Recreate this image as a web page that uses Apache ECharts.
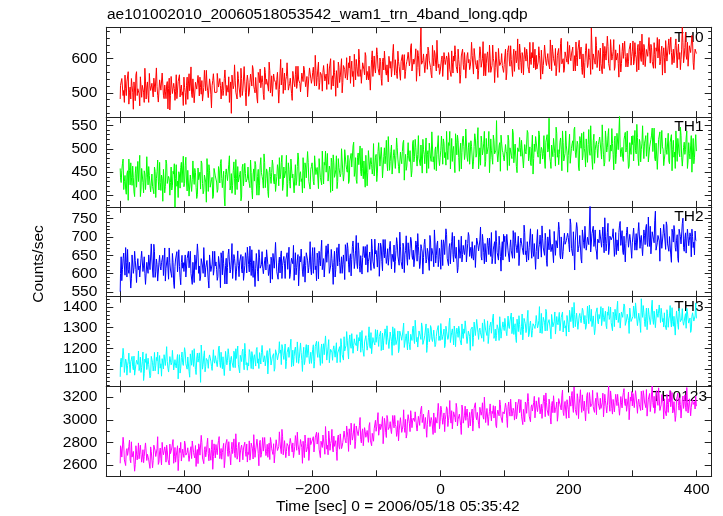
<!DOCTYPE html>
<html><head><meta charset="utf-8">
<script src="https://cdn.jsdelivr.net/npm/echarts@6/dist/echarts.min.js"></script>
<style>html,body{margin:0;padding:0;background:#fff}#c{width:723px;height:516px}</style>
</head><body><div id="c"></div>
<script>
const plotTitle = 'ae101002010_20060518053542_wam1_trn_4band_long.qdp';
const xTitle = 'Time [sec] 0 = 2006/05/18 05:35:42';
const yTitle = 'Counts/sec';
const bandNames = ['TH0', 'TH1', 'TH2', 'TH3', 'TH0123'];
const tStart = -500;   // 1 s bins: "Even" arrays hold t = -500,-498,...,400 ; "Odd" arrays hold t = -499,-497,...,399
const xTickValues = [-500, -400, -300, -200, -100, 0, 100, 200, 300, 400];
const xLabelValues = [-400, -200, 0, 200, 400];
const yMajorTicks = [[500, 600], [400, 450, 500, 550], [550, 600, 650, 700, 750], [1100, 1200, 1300, 1400], [2600, 2800, 3000, 3200]];

const th0Even = [
482,522,537,507,552,492,527,467,517,542,502,532,477,562,512,497,547,487,522,472,532,517,492,557,507,
528,488,543,503,518,473,538,508,558,493,523,483,533,513,450,548,498,528,478,553,508,538,488,523,503,
546,501,521,481,556,526,496,541,471,531,511,551,491,516,536,476,566,506,526,486,541,496,521,556,501,
502,557,517,542,482,532,507,567,492,527,547,512,440,552,522,537,497,562,517,487,542,507,577,502,532,
535,500,555,520,570,510,545,485,560,530,515,550,495,575,525,540,505,565,520,490,555,535,510,560,470,
558,523,573,533,508,548,583,518,543,498,563,528,553,513,578,538,503,558,533,568,518,548,493,573,543,
540,575,520,565,545,590,530,560,505,580,535,555,585,525,570,510,550,595,540,565,515,575,545,600,530,
583,543,603,558,573,528,593,563,613,538,578,548,598,568,523,588,553,608,563,538,583,558,623,543,573,
562,612,577,602,542,592,567,627,552,587,607,572,547,617,582,597,557,622,577,537,602,567,612,562,592,
619,579,634,564,599,584,629,574,609,549,690,589,614,559,604,569,624,594,554,639,579,614,564,599,584,
563,598,548,618,583,608,538,603,573,623,558,593,613,568,628,578,553,603,583,618,543,608,588,568,598,
610,555,625,580,595,565,635,575,600,550,615,585,620,560,605,570,640,590,575,625,545,600,580,615,570,
583,628,558,613,593,638,573,608,563,623,598,578,643,588,618,553,633,593,613,568,648,583,603,573,628,
610,570,635,585,625,555,605,640,580,615,590,655,565,620,595,630,575,610,560,645,585,600,570,625,590,
584,639,594,624,564,609,649,579,619,599,634,554,614,589,644,574,629,594,690,569,619,584,639,599,614,
631,591,646,571,616,601,636,581,656,596,621,566,626,606,586,641,561,621,601,651,576,616,591,631,581,
622,582,647,602,632,567,652,592,617,642,577,627,607,662,587,632,597,647,572,622,602,657,592,637,607,
603,653,593,638,613,663,583,628,608,658,573,643,618,598,692,588,633,608,648,578,638,613,653,568,628,
615];
const th0Odd = [
522,542,492,472,512,532,562,502,482,522,452,532,552,492,512,462,542,522,502,572,482,532,472,522,512,
523,543,503,573,493,473,533,513,563,483,503,523,453,543,493,553,503,513,503,483,533,553,513,493,463,
516,466,546,526,506,576,486,536,476,526,516,526,546,496,476,516,536,566,506,486,526,456,536,556,496,
502,562,512,522,512,492,542,562,522,502,472,532,552,512,582,502,482,542,522,572,492,512,532,462,552,
490,530,550,580,520,500,540,470,550,570,510,530,480,560,540,520,590,500,550,490,540,530,540,560,510,
598,518,498,558,538,588,508,528,548,478,568,518,578,528,538,528,508,558,578,538,518,488,548,568,528,
560,540,610,520,570,510,560,550,560,580,530,510,550,570,600,540,520,560,490,570,590,530,550,500,580,
568,558,538,588,608,568,548,518,578,598,558,628,548,528,588,568,618,538,558,578,508,598,548,608,558,
632,572,552,592,522,602,622,562,582,532,612,592,572,642,552,602,542,592,582,592,612,562,542,582,602,
614,594,644,564,584,604,534,624,574,634,584,594,584,564,614,634,594,574,544,604,624,584,654,574,554,
558,608,548,598,588,598,618,568,548,588,608,638,578,558,598,528,608,628,568,588,538,618,598,578,648,
610,630,590,570,540,600,620,580,650,570,550,610,590,640,560,580,600,530,620,570,630,580,590,580,560,
608,538,618,638,578,598,548,628,608,588,658,568,618,558,608,598,608,628,578,558,598,618,648,588,568,
570,590,610,540,630,580,640,590,600,590,570,620,640,600,580,550,610,630,590,660,580,560,620,600,650,
614,604,614,634,584,564,604,624,654,594,574,614,544,624,644,584,604,554,634,614,594,664,574,624,564,
586,556,616,636,596,666,586,566,626,606,656,576,596,616,546,636,586,646,596,606,596,576,626,646,606,
652,592,612,562,642,622,602,672,582,632,572,622,612,622,642,592,572,612,632,662,602,582,622,552,632,
558,648,598,658,608,618,608,588,638,658,618,598,568,628,648,608,678,598,578,638,618,668,588,608,628];

const th1Even = [
458,428,468,413,443,403,453,478,423,438,463,408,448,418,473,433,398,458,428,453,413,483,423,443,408,
446,416,461,396,451,431,471,411,436,456,406,476,426,441,401,461,421,446,375,466,431,451,416,471,426,
419,464,429,454,399,444,409,474,424,449,394,459,434,414,469,404,444,429,479,409,454,419,439,399,459,
442,407,462,427,477,417,452,378,457,432,467,412,447,422,472,402,437,462,427,452,397,467,417,447,432,
461,426,476,411,446,431,466,401,456,421,481,441,416,471,436,451,396,461,426,476,431,446,411,466,421,
436,471,411,461,441,486,426,456,416,476,446,406,466,431,491,421,451,436,481,416,461,441,471,426,456,
470,430,485,445,460,415,475,440,495,425,465,450,490,435,455,480,410,470,445,485,430,460,440,500,450,
446,496,456,486,431,476,461,506,441,481,426,491,466,451,501,436,471,486,421,496,456,481,446,511,461,
488,448,513,463,503,438,483,468,518,453,493,473,508,443,498,458,523,478,448,493,468,513,433,488,463,
513,473,493,453,518,483,503,463,528,478,508,448,498,468,523,488,458,513,473,533,483,498,453,508,478,
482,527,467,512,492,537,477,507,457,522,497,472,532,487,517,452,512,492,527,477,542,482,502,467,517,
507,472,532,482,517,457,502,527,487,512,462,522,492,537,477,497,467,517,487,560,472,507,452,512,492,
474,509,489,529,464,504,479,534,469,514,449,499,524,484,519,459,509,489,539,474,504,464,529,479,494,
523,488,538,468,503,478,528,458,513,493,565,473,508,483,518,463,533,498,488,523,453,513,478,538,493,
486,531,466,511,496,546,481,516,461,526,501,476,536,491,521,471,541,486,506,456,531,496,516,481,511,
523,478,513,463,538,493,528,473,508,543,488,518,468,533,498,570,483,503,473,528,493,538,458,513,488,
509,474,539,489,524,464,514,499,549,479,519,484,534,469,504,529,494,544,474,514,459,524,489,539,499,
478,523,488,533,468,513,453,518,493,538,473,508,483,528,463,503,488,523,458,513,478,528,493,468,508,
495];
const th1Odd = [
438,454,478,430,414,446,390,454,470,422,438,398,462,446,430,486,414,454,406,446,438,446,462,422,406,
420,404,452,436,476,412,428,444,388,460,420,468,428,436,428,412,452,468,436,420,396,444,460,428,484,
426,482,410,450,402,442,434,442,458,418,402,434,450,474,426,410,442,386,450,466,418,434,394,458,442,
429,413,453,469,437,421,397,445,461,429,485,421,405,453,437,477,413,429,445,389,461,421,469,429,437,
433,417,449,393,457,473,425,441,401,465,449,433,489,417,457,409,449,441,449,465,425,409,441,457,481,
446,486,422,438,454,398,470,430,478,438,446,438,422,462,478,446,430,406,454,470,438,494,430,414,462,
471,423,463,455,463,479,439,423,455,471,495,447,431,463,407,471,487,439,455,415,479,463,447,503,431,
498,466,450,426,474,490,458,514,450,434,482,466,506,442,458,474,418,490,450,498,458,466,458,442,482,
430,494,510,462,478,438,502,486,470,526,454,494,446,486,478,486,502,462,446,478,494,518,470,454,486,
480,496,440,512,472,520,480,488,480,464,504,520,488,472,448,496,512,480,536,472,456,504,488,528,464,
497,505,521,481,465,497,513,537,489,473,505,449,513,529,481,497,457,521,505,489,545,473,513,465,505,
457,505,521,489,545,481,465,513,497,537,473,489,505,449,521,481,529,489,497,489,473,513,529,497,481,
478,494,454,518,502,486,542,470,510,462,502,494,502,518,478,462,494,510,534,486,470,502,446,510,526,
522,482,530,490,498,490,474,514,530,498,482,458,506,522,490,546,482,466,514,498,538,474,490,506,450,
485,469,501,517,541,493,477,509,453,517,533,485,501,461,525,509,493,549,477,517,469,509,501,509,525,
495,551,487,471,519,503,543,479,495,511,455,527,487,535,495,503,495,479,519,535,503,487,463,511,527,
528,512,496,552,480,520,472,512,504,512,528,488,472,504,520,544,496,480,512,456,520,536,488,504,464,
490,498,490,474,514,530,498,482,458,506,522,490,546,482,466,514,498,538,474,490,506,450,522,482,530];

const th2Even = [
551,646,611,656,596,631,666,601,626,586,651,616,636,576,641,621,591,661,606,646,571,631,601,656,616,
640,590,660,605,625,580,650,610,635,595,670,615,645,585,630,600,655,575,620,640,605,665,590,630,615,
606,651,586,636,616,661,596,631,576,646,611,656,621,591,641,601,666,616,636,581,651,606,626,596,661,
632,582,647,612,657,597,627,572,642,617,667,602,637,587,652,622,607,662,592,632,612,647,577,657,602,
650,605,630,665,590,640,615,655,580,645,620,660,600,635,610,670,595,625,645,585,655,615,640,605,630,
602,662,622,647,587,637,612,672,597,642,627,582,657,617,652,607,632,667,592,647,622,662,602,637,612,
646,601,671,621,656,586,636,661,611,641,596,676,626,651,606,666,616,631,591,656,621,681,601,646,626,
624,679,634,669,604,654,639,689,614,664,629,684,619,649,599,674,644,624,679,634,659,609,669,639,694,
663,618,683,638,673,608,658,693,628,668,643,688,613,653,678,633,698,648,623,673,638,683,603,663,643,
684,639,699,649,664,624,689,634,674,614,679,659,644,694,629,669,654,704,634,674,619,684,649,689,639,
647,692,622,682,657,707,637,672,627,687,652,702,642,667,617,697,662,632,677,652,692,637,712,647,672,
687,637,677,622,702,662,692,647,707,657,682,632,697,652,672,712,642,677,627,687,662,702,647,667,637,
687,647,707,662,632,692,667,717,642,682,657,702,627,697,672,652,712,662,687,637,697,667,707,647,682,
660,720,670,705,645,695,675,710,635,700,665,725,655,685,715,650,690,670,720,640,700,660,710,675,695,
699,659,734,674,714,610,694,724,669,704,639,719,684,729,664,699,679,785,654,709,674,719,659,694,684,
717,672,727,657,702,682,737,667,707,687,722,647,712,692,662,732,677,717,652,702,682,727,672,707,687,
684,724,664,709,689,739,669,704,649,719,679,734,674,699,729,659,714,684,770,664,704,689,724,669,709,
711,666,731,676,701,651,721,686,716,661,706,631,726,681,736,671,696,656,721,676,711,646,701,686,716,
690];
const th2Odd = [
601,581,641,621,671,591,611,631,561,651,601,661,611,621,611,591,641,661,621,601,571,631,651,611,681,
610,680,590,640,580,630,620,630,650,600,580,620,640,670,610,590,630,560,640,660,600,620,570,650,630,
611,591,641,661,621,601,571,631,651,611,681,601,581,641,621,671,591,611,631,561,651,601,661,611,621,
612,592,632,562,642,662,602,622,572,652,632,612,682,592,642,582,632,622,632,652,602,582,622,642,672,
625,675,595,615,635,565,655,605,665,615,625,615,595,645,665,625,605,575,635,655,615,685,605,585,645,
647,587,637,627,637,657,607,587,627,647,677,617,597,637,567,647,667,607,627,577,657,637,617,687,597,
671,631,611,581,641,661,621,691,611,591,651,631,681,601,621,641,571,661,611,671,621,631,621,601,651,
584,664,684,624,644,594,674,654,634,704,614,664,604,654,644,654,674,624,604,644,664,694,634,614,654,
643,663,593,683,633,693,643,653,643,623,673,693,653,633,603,663,683,643,713,633,613,673,653,703,623,
659,669,689,639,619,659,679,709,649,629,669,599,679,699,639,659,609,689,669,649,719,629,679,619,669,
612,672,692,652,722,642,622,682,662,712,632,652,672,602,692,642,702,652,662,652,632,682,702,662,642,
647,667,617,697,677,657,727,637,687,627,677,667,677,697,647,627,667,687,717,657,637,677,607,687,707,
702,652,712,662,672,662,642,692,712,672,652,622,682,702,662,732,652,632,692,672,722,642,662,682,612,
660,640,680,700,730,670,650,690,620,700,720,660,680,630,710,690,670,740,650,700,640,690,680,690,710,
679,749,669,649,709,689,739,659,679,699,629,719,669,729,679,689,679,659,709,729,689,669,639,699,719,
722,702,682,752,662,712,652,702,692,702,722,672,652,692,712,742,682,662,702,632,712,732,672,692,642,
684,694,684,664,714,734,694,674,644,704,724,684,754,674,654,714,694,744,664,684,704,634,724,674,734,
711,741,681,661,701,631,711,731,671,691,641,721,701,681,751,661,711,651,701,691,701,721,671,651,691];

const th3Even = [
1062,1152,1102,1167,1087,1137,1117,1177,1082,1147,1112,1162,1072,1142,1122,1092,1157,1107,1182,1077,1132,1097,1152,1117,1067,
1155,1090,1180,1115,1140,1075,1165,1125,1150,1100,1175,1110,1135,1085,1160,1120,1190,1095,1145,1105,1170,1125,1080,1155,1130,
1108,1183,1128,1158,1088,1173,1118,1143,1198,1098,1153,1133,1178,1035,1163,1123,1188,1113,1148,1103,1168,1138,1093,1193,1128,
1166,1111,1201,1131,1181,1101,1156,1121,1191,1141,1171,1091,1161,1126,1186,1106,1151,1211,1116,1166,1136,1196,1096,1176,1131,
1129,1194,1144,1184,1099,1169,1114,1204,1149,1179,1124,1214,1134,1164,1109,1189,1139,1199,1119,1159,1174,1104,1194,1144,1179,
1176,1121,1201,1146,1221,1136,1181,1156,1211,1111,1191,1161,1206,1131,1186,1151,1226,1141,1171,1121,1196,1156,1216,1126,1181,
1162,1217,1137,1207,1177,1232,1152,1197,1127,1222,1172,1202,1147,1242,1167,1187,1142,1212,1157,1227,1177,1197,1132,1217,1172,
1256,1201,1281,1186,1241,1216,1271,1176,1246,1221,1266,1196,1236,1181,1286,1206,1231,1261,1191,1251,1211,1276,1171,1236,1216,
1229,1289,1209,1264,1189,1274,1239,1294,1219,1254,1199,1279,1234,1304,1214,1259,1224,1284,1194,1269,1239,1289,1204,1249,1264,
1283,1218,1268,1238,1308,1223,1293,1253,1203,1278,1243,1303,1228,1263,1318,1213,1273,1248,1298,1233,1288,1208,1258,1293,1238,
1238,1313,1258,1293,1218,1283,1243,1323,1228,1278,1263,1308,1208,1298,1253,1288,1233,1318,1248,1273,1303,1223,1283,1258,1293,
1303,1253,1328,1268,1343,1243,1298,1278,1323,1233,1313,1283,1333,1258,1308,1273,1348,1248,1293,1263,1318,1238,1303,1283,1328,
1286,1336,1261,1356,1296,1326,1271,1351,1301,1251,1341,1281,1316,1266,1366,1291,1331,1276,1346,1256,1311,1336,1286,1321,1296,
1359,1299,1334,1274,1369,1309,1349,1284,1379,1319,1339,1289,1364,1304,1329,1269,1354,1314,1374,1294,1344,1279,1334,1309,1359,
1314,1384,1329,1399,1299,1364,1339,1379,1284,1369,1324,1394,1334,1359,1304,1404,1319,1349,1389,1309,1354,1294,1374,1329,1364,
1365,1310,1395,1330,1380,1295,1360,1340,1400,1320,1375,1305,1355,1390,1325,1370,1290,1385,1345,1405,1315,1365,1335,1395,1330,
1330,1405,1345,1385,1310,1370,1320,1440,1350,1375,1305,1395,1335,1365,1315,1400,1340,1380,1300,1390,1350,1410,1325,1365,1345,
1372,1322,1387,1302,1357,1332,1397,1307,1362,1337,1382,1292,1367,1327,1392,1312,1352,1297,1377,1322,1347,1287,1372,1332,1357,
1345];
const th3Odd = [
1135,1109,1200,1083,1148,1070,1135,1122,1135,1161,1096,1070,1122,1148,1187,1109,1083,1135,1044,1148,1174,1096,1122,1057,1161,
1130,1117,1091,1156,1182,1130,1104,1065,1143,1169,1117,1208,1104,1078,1156,1130,1195,1091,1117,1143,1052,1169,1104,1182,1117,
1203,1125,1099,1151,1060,1164,1190,1112,1138,1073,1177,1151,1125,1216,1099,1164,1086,1151,1138,1151,1177,1112,1086,1138,1164,
1172,1146,1211,1107,1133,1159,1068,1185,1120,1198,1133,1146,1133,1107,1172,1198,1146,1120,1081,1159,1185,1133,1224,1120,1094,
1115,1180,1102,1167,1154,1167,1193,1128,1102,1154,1180,1219,1141,1115,1167,1076,1180,1206,1128,1154,1089,1193,1167,1141,1232,
1192,1218,1166,1140,1101,1179,1205,1153,1244,1140,1114,1192,1166,1231,1127,1153,1179,1088,1205,1140,1218,1153,1166,1153,1127,
1195,1104,1208,1234,1156,1182,1117,1221,1195,1169,1260,1143,1208,1130,1195,1182,1195,1221,1156,1130,1182,1208,1247,1169,1143,
1187,1213,1239,1148,1265,1200,1278,1213,1226,1213,1187,1252,1278,1226,1200,1161,1239,1265,1213,1304,1200,1174,1252,1226,1291,
1257,1244,1257,1283,1218,1192,1244,1270,1309,1231,1205,1257,1166,1270,1296,1218,1244,1179,1283,1257,1231,1322,1205,1270,1192,
1232,1193,1271,1297,1245,1336,1232,1206,1284,1258,1323,1219,1245,1271,1180,1297,1232,1310,1245,1258,1245,1219,1284,1310,1258,
1320,1242,1268,1203,1307,1281,1255,1346,1229,1294,1216,1281,1268,1281,1307,1242,1216,1268,1294,1333,1255,1229,1281,1190,1294,
1210,1327,1262,1340,1275,1288,1275,1249,1314,1340,1288,1262,1223,1301,1327,1275,1366,1262,1236,1314,1288,1353,1249,1275,1301,
1345,1280,1254,1306,1332,1371,1293,1267,1319,1228,1332,1358,1280,1306,1241,1345,1319,1293,1384,1267,1332,1254,1319,1306,1319,
1363,1311,1402,1298,1272,1350,1324,1389,1285,1311,1337,1246,1363,1298,1376,1311,1324,1311,1285,1350,1376,1324,1298,1259,1337,
1279,1383,1357,1331,1422,1305,1370,1292,1357,1344,1357,1383,1318,1292,1344,1370,1409,1331,1305,1357,1266,1370,1396,1318,1344,
1402,1337,1350,1337,1311,1376,1402,1350,1324,1285,1363,1389,1337,1428,1324,1298,1376,1350,1415,1311,1337,1363,1272,1389,1324,
1355,1381,1420,1342,1316,1368,1277,1381,1407,1329,1355,1290,1394,1368,1342,1433,1316,1381,1303,1368,1355,1368,1394,1329,1303,
1316,1290,1368,1342,1407,1303,1329,1355,1264,1381,1316,1394,1329,1342,1329,1303,1368,1394,1342,1316,1277,1355,1381,1329,1420];

const th0123Even = [
2615,2745,2675,2785,2635,2725,2685,2765,2645,2805,2665,2715,2605,2755,2695,2655,2775,2625,2735,2675,2795,2640,2710,2660,2760,
2730,2640,2780,2675,2745,2605,2715,2660,2800,2690,2760,2625,2725,2650,2785,2695,2735,2615,2755,2680,2770,2655,2710,2635,2740,
2667,2787,2697,2752,2632,2732,2657,2807,2682,2772,2707,2612,2762,2692,2797,2652,2737,2672,2782,2702,2747,2642,2822,2677,2727,
2781,2691,2816,2656,2746,2711,2791,2636,2766,2721,2806,2676,2736,2701,2831,2666,2756,2681,2801,2706,2776,2646,2741,2716,2786,
2713,2813,2688,2778,2653,2758,2733,2828,2703,2798,2668,2768,2723,2843,2683,2783,2738,2648,2808,2718,2788,2693,2823,2728,2763,
2805,2700,2850,2745,2820,2720,2775,2680,2835,2760,2795,2710,2860,2730,2785,2690,2825,2755,2810,2665,2790,2735,2840,2715,2780,
2770,2850,2710,2825,2785,2885,2740,2810,2755,2865,2695,2835,2775,2900,2730,2815,2750,2855,2780,2720,2840,2765,2875,2745,2800,
2900,2815,2945,2840,2920,2780,2885,2855,2965,2805,2910,2860,2950,2825,2890,2770,2930,2845,2905,2800,2975,2830,2880,2810,2915,
2898,2998,2863,2963,2923,3028,2883,2973,2843,3008,2913,2983,2878,3038,2928,2958,2853,2993,2908,3018,2888,2953,2933,3003,2868,
3045,2965,3080,2930,3015,2985,3065,2900,3030,2950,3095,2975,3050,2920,3010,2960,3085,2940,3020,2990,3060,2885,3035,2970,3070,
2985,3090,2960,3060,3000,3115,2940,3045,3015,3080,2915,3070,2980,3105,3005,3050,2950,3130,2970,3040,2995,3095,2930,3065,3010,
3095,2995,3130,3025,3065,2960,3110,3040,3150,3005,3080,2975,3100,3030,3140,2990,3055,3015,3120,2930,3085,3035,3135,3010,3070,
3052,3147,3012,3117,3072,3182,3032,3102,2997,3157,3042,3132,3062,3177,3022,3092,2982,3137,3057,3162,3037,3112,3077,3152,3017,
3167,3072,3197,3052,3137,3097,3217,3027,3152,3082,3182,3017,3127,3062,3202,3092,3157,3042,3172,3107,3212,3067,3132,3077,3177,
3090,3210,3120,3250,3065,3175,3100,3230,3010,3190,3130,3220,3080,3165,3110,3240,3055,3185,3125,3260,3085,3155,3045,3200,3135,
3190,3085,3235,3115,3170,3060,3210,3135,3255,3100,3180,3070,3225,3125,3160,3040,3205,3105,3240,3145,3185,3080,3245,3110,3165,
3122,3237,3102,3202,3057,3182,3142,3252,3087,3217,3132,3267,3112,3172,3072,3227,3152,3207,3097,3257,3127,3192,3067,3222,3147,
3185,3095,3225,3065,3160,3115,3240,3080,3170,3040,3205,3125,3195,3015,3175,3100,3220,3075,3150,3055,3200,3110,3180,3130,3095,
3120];
const th0123Odd = [
2770,2670,2845,2645,2595,2745,2695,2820,2620,2670,2720,2545,2770,2645,2795,2670,2695,2670,2620,2745,2795,2695,2645,2570,2720,
2575,2775,2725,2675,2850,2625,2750,2600,2725,2700,2725,2775,2650,2600,2700,2750,2825,2675,2625,2725,2550,2750,2800,2650,2700,
2812,2687,2712,2687,2637,2762,2812,2712,2662,2587,2737,2787,2687,2862,2662,2612,2762,2712,2837,2637,2687,2737,2562,2787,2662,
2726,2776,2851,2701,2651,2751,2576,2776,2826,2676,2726,2601,2801,2751,2701,2876,2651,2776,2626,2751,2726,2751,2801,2676,2626,
2693,2643,2793,2743,2868,2668,2718,2768,2593,2818,2693,2843,2718,2743,2718,2668,2793,2843,2743,2693,2618,2768,2818,2718,2893,
2740,2915,2690,2815,2665,2790,2765,2790,2840,2715,2665,2765,2815,2890,2740,2690,2790,2615,2815,2865,2715,2765,2640,2840,2790,
2765,2715,2840,2890,2790,2740,2665,2815,2865,2765,2940,2740,2690,2840,2790,2915,2715,2765,2815,2640,2865,2740,2890,2765,2790,
2845,2795,2895,2720,2920,2970,2820,2870,2745,2945,2895,2845,3020,2795,2920,2770,2895,2870,2895,2945,2820,2770,2870,2920,2995,
2938,3063,2863,2913,2963,2788,3013,2888,3038,2913,2938,2913,2863,2988,3038,2938,2888,2813,2963,3013,2913,3088,2888,2838,2988,
3045,2895,3020,2995,3020,3070,2945,2895,2995,3045,3120,2970,2920,3020,2845,3045,3095,2945,2995,2870,3070,3020,2970,3145,2920,
3120,3020,2970,2895,3045,3095,2995,3170,2970,2920,3070,3020,3145,2945,2995,3045,2870,3095,2970,3120,2995,3020,2995,2945,3070,
2900,3100,3150,3000,3050,2925,3125,3075,3025,3200,2975,3100,2950,3075,3050,3075,3125,3000,2950,3050,3100,3175,3025,2975,3075,
3057,3107,2932,3157,3032,3182,3057,3082,3057,3007,3132,3182,3082,3032,2957,3107,3157,3057,3232,3032,2982,3132,3082,3207,3007,
3112,3137,3187,3062,3012,3112,3162,3237,3087,3037,3137,2962,3162,3212,3062,3112,2987,3187,3137,3087,3262,3037,3162,3012,3137,
3015,3165,3215,3115,3290,3090,3040,3190,3140,3265,3065,3115,3165,2990,3215,3090,3240,3115,3140,3115,3065,3190,3240,3140,3090,
3100,3150,3025,3225,3175,3125,3300,3075,3200,3050,3175,3150,3175,3225,3100,3050,3150,3200,3275,3125,3075,3175,3000,3200,3250,
3232,3107,3257,3132,3157,3132,3082,3207,3257,3157,3107,3032,3182,3232,3132,3307,3107,3057,3207,3157,3282,3082,3132,3182,3007,
3085,3035,3135,3185,3260,3110,3060,3160,2985,3185,3235,3085,3135,3010,3210,3160,3110,3285,3060,3185,3035,3160,3135,3160,3210];

// ---------- layout / style ----------
const FONT = '"Liberation Sans", Arial, Helvetica, sans-serif';
const FS = 15.5;
const AX = '#222';
const GL = 106.3, GR = 11.3, GTOP = 27.3, GH = 89.8;
const XMIN = -521.7, XMAX = 423.4;
const panels = [
  { even: th0Even,    odd: th0Odd,    color: '#ff0000', min: 429,   max: 692,   minorStep: 20 },
  { even: th1Even,    odd: th1Odd,    color: '#00ff00', min: 376,   max: 567.5, minorStep: 10 },
  { even: th2Even,    odd: th2Odd,    color: '#0000ff', min: 537.5, max: 781.6, minorStep: 10 },
  { even: th3Even,    odd: th3Odd,    color: '#00ffff', min: 1015,  max: 1450,  minorStep: 20 },
  { even: th0123Even, odd: th0123Odd, color: '#ff00ff', min: 2500,  max: 3294,  minorStep: 100 }
];
const fmtX = v => (v < 0 ? '\u2212' + (-v) : String(v));
const fmtY = v => String(v);
function toPoints(even, odd) {
  const pts = [];
  even.forEach((v, k) => {
    pts.push([tStart + 2 * k, v]);
    if (k < odd.length) pts.push([tStart + 2 * k + 1, odd[k]]);
  });
  return pts;
}

const grids = [], xAxes = [], yAxes = [], series = [], graphics = [];
panels.forEach((p, i) => {
  grids.push({ left: GL, right: GR, top: GTOP + i * GH, height: GH, containLabel: false });
  const last = i === panels.length - 1;
  const xBase = { gridIndex: i, type: 'value', min: XMIN, max: XMAX, splitLine: { show: false },
    axisLine: { show: true, onZero: false, lineStyle: { color: AX, width: 1 } } };
  xAxes.push(Object.assign({}, xBase, { position: 'bottom',
    axisTick: { show: true, inside: true, length: 6, customValues: xTickValues, lineStyle: { color: AX } },
    axisLabel: { show: last, customValues: xLabelValues, formatter: fmtX, margin: 5,
      fontFamily: FONT, fontSize: FS, color: '#000' } }));
  xAxes.push(Object.assign({}, xBase, { position: 'top',
    axisTick: { show: true, inside: true, length: 6, customValues: xTickValues, lineStyle: { color: AX } },
    axisLabel: { show: false } }));
  const major = yMajorTicks[i];
  const minor = [];
  for (let v = Math.ceil(p.min / p.minorStep) * p.minorStep; v <= p.max; v += p.minorStep) {
    if (!major.includes(v)) minor.push(v);
  }
  const yBase = { gridIndex: i, type: 'value', min: p.min, max: p.max, splitLine: { show: false } };
  ['left', 'right'].forEach(side => {
    yAxes.push(Object.assign({}, yBase, { position: side,
      axisLine: { show: true, onZero: false, lineStyle: { color: AX, width: 1 } },
      axisTick: { show: true, inside: true, length: 7, customValues: major, lineStyle: { color: AX } },
      axisLabel: { show: side === 'left', customValues: major, formatter: fmtY, margin: 9,
        fontFamily: FONT, fontSize: FS, color: '#000' } }));
    yAxes.push(Object.assign({}, yBase, { position: side,
      axisLine: { show: false, onZero: false },
      axisTick: { show: true, inside: true, length: 3.5, customValues: minor, lineStyle: { color: AX } },
      axisLabel: { show: false } }));
  });
  series.push({ type: 'line', xAxisIndex: i * 2, yAxisIndex: i * 4, clip: true, step: 'middle',
    data: toPoints(p.even, p.odd),
    showSymbol: false, symbol: 'none', silent: true,
    lineStyle: { width: 1, color: p.color }, itemStyle: { color: p.color } });
  graphics.push({ type: 'text', x: i === 4 ? 707 : 703.5, y: GTOP + i * GH + 2,
    style: { text: bandNames[i], align: 'right', verticalAlign: 'top',
      font: FS + 'px ' + FONT, fill: '#000' } });
});
graphics.push({ type: 'text', x: 107, y: 7, style: { text: plotTitle, align: 'left', verticalAlign: 'top', font: FS + 'px ' + FONT, fill: '#000' } });
graphics.push({ type: 'text', x: 276, y: 499, style: { text: xTitle, align: 'left', verticalAlign: 'top', font: FS + 'px ' + FONT, fill: '#000' } });
graphics.push({ type: 'text', x: 39, y: 264, rotation: Math.PI / 2, style: { text: yTitle, align: 'center', verticalAlign: 'middle', font: FS + 'px ' + FONT, fill: '#000' } });

const chart = echarts.init(document.getElementById('c'), null, { renderer: 'canvas' });
chart.setOption({
  animation: false,
  backgroundColor: '#fff',
  grid: grids, xAxis: xAxes, yAxis: yAxes, series: series, graphic: graphics
});
</script>
</body></html>
